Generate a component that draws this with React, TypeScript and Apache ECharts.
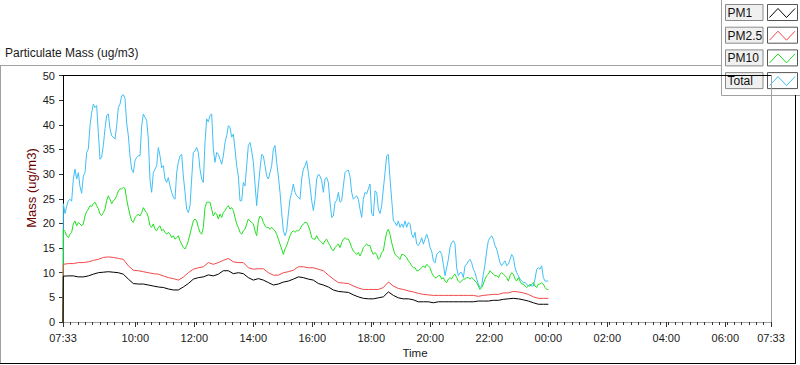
import React, { useEffect, useRef } from "react";
import * as echarts from "echarts";

// ---- data (minutes after 07:33) ----
const FIRST_MIN = 0.68;
const FINE_STEP = 3.39; // sampling step of Total & PM10 (minutes)
const COARSE_STEP = 10.17; // sampling step of PM1 & PM2.5 (minutes)

const TICK_LABELS = ["07:33", "10:00", "12:00", "14:00", "16:00", "18:00", "20:00", "22:00", "00:00", "02:00", "04:00", "06:00", "07:33"];

const totalValues = [
  24.0, 22.0, 23.5, 24.6, 24.9, 24.5, 29.0, 31.0, 29.0, 30.3,
  27.5, 26.1, 29.6, 30.3, 34.4, 35.1, 39.8, 42.5, 44.2, 43.5,
  43.9, 38.4, 33.0, 33.5, 35.8, 39.2, 41.9, 42.2, 39.2, 37.8,
  37.5, 37.1, 39.8, 43.5, 44.2, 45.9, 46.1, 45.3, 40.4, 37.8,
  33.7, 31.0, 30.3, 32.7, 33.4, 33.7, 33.7, 39.8, 42.2, 41.5,
  40.9, 37.1, 28.7, 26.3, 30.3, 31.0, 31.7, 35.4, 33.7, 31.3,
  31.7, 29.0, 28.3, 29.3, 27.6, 26.3, 25.3, 24.9, 30.3, 32.4,
  33.7, 34.0, 29.6, 26.3, 22.9, 22.2, 23.6, 29.0, 34.4, 34.7,
  35.4, 34.4, 31.0, 29.0, 28.3, 36.4, 41.2, 40.6, 41.9, 42.2,
  35.1, 32.4, 34.4, 34.0, 33.0, 32.0, 33.7, 36.4, 37.8, 39.8,
  39.5, 37.5, 38.1, 35.1, 31.7, 29.6, 24.6, 24.6, 28.3, 27.6,
  31.7, 35.8, 36.4, 34.7, 32.4, 28.0, 23.6, 27.6, 31.0, 34.0,
  33.7, 31.7, 29.6, 29.0, 30.3, 31.7, 35.1, 35.8, 32.4, 29.6,
  26.3, 22.2, 18.5, 17.5, 18.5, 21.9, 24.9, 26.3, 28.0, 26.3,
  25.6, 25.3, 24.9, 29.0, 31.0, 31.7, 32.7, 30.3, 27.6,
  24.6, 22.6, 24.9, 29.0, 30.0, 29.6, 28.7, 26.3, 29.0, 29.3,
  28.3, 24.3, 21.2, 21.5, 24.3, 24.6, 26.3, 24.3, 24.6, 27.6,
  30.3, 30.7, 30.8, 29.6, 26.3, 24.9, 25.3, 25.6, 24.9, 22.9,
  21.2, 24.9, 26.3, 26.0, 27.0, 28.0, 22.0, 21.5, 26.6, 26.3,
  22.9, 22.0, 23.6, 27.0, 30.3, 33.7, 34.0, 29.0, 24.9,
  20.5, 20.2, 19.5, 20.5, 19.2, 19.9, 19.2, 20.5, 19.2, 20.2,
  19.9, 17.8, 17.1, 18.2, 15.8, 15.5, 16.1, 17.1, 15.8, 16.8,
  17.8, 16.8, 15.1, 14.4, 12.4, 12.0, 13.7, 14.1, 14.4, 13.7,
  11.7, 9.4, 11.0, 12.7, 15.1, 16.1, 16.5, 15.8, 11.0, 9.4,
  10.0, 10.0, 9.0, 11.4, 11.7, 12.4, 12.7, 12.0, 10.7, 10.0,
  8.7, 7.7, 7.0, 7.3, 9.7, 11.7, 14.4, 16.5, 17.1, 17.5,
  16.8, 15.5, 14.8, 13.4, 12.0, 11.4, 12.0, 12.4, 11.4, 11.7,
  12.7, 13.7, 13.1, 11.0, 10.0, 9.4, 8.7, 8.3, 8.0, 8.0,
  7.7, 7.3, 7.7, 7.3, 7.3, 8.7, 10.7, 11.0, 10.7, 11.4,
  9.0, 8.3, 8.3, 8.3,
];

const pm10Values = [
  18.8, 18.4, 17.5, 17.1, 17.8, 18.2, 19.9, 20.5, 19.5, 20.2,
  19.9, 19.5, 19.9, 21.5, 22.4, 22.9, 23.6, 23.4, 24.0, 24.3,
  23.6, 23.0, 21.9, 21.6, 22.2, 22.9, 24.6, 25.6, 24.9, 24.0,
  24.6, 24.9, 25.6, 26.6, 27.0, 27.0, 27.3, 27.1, 24.9, 23.2,
  21.7, 20.5, 20.2, 21.2, 21.5, 21.9, 21.5, 22.2, 23.2, 22.6,
  22.2, 21.2, 19.5, 19.2, 19.9, 18.8, 18.5, 19.2, 19.5, 18.5,
  18.8, 18.2, 17.8, 18.2, 17.8, 17.1, 17.5, 16.8, 17.1, 17.5,
  16.5, 15.8, 15.1, 14.8, 15.5, 16.5, 17.8, 19.2, 20.5, 20.9,
  20.5, 19.2, 18.2, 17.8, 19.2, 23.2, 24.3, 24.3, 24.3, 22.9,
  21.5, 22.2, 21.9, 20.9, 21.9, 21.2, 22.2, 22.6, 23.2, 23.6,
  22.9, 23.2, 22.6, 21.2, 19.9, 19.2, 18.2, 17.8, 18.5, 18.8,
  19.9, 20.9, 20.5, 20.2, 19.9, 18.5, 17.5, 20.5, 21.5, 21.2,
  20.2, 19.5, 19.2, 19.2, 18.8, 19.2, 18.8, 18.5, 17.8, 16.8,
  15.8, 14.8, 13.7, 14.8, 15.5, 16.5, 17.5, 18.2, 18.5, 18.2,
  18.5, 18.5, 18.8, 19.5, 19.9, 20.2, 20.2, 19.5, 18.5,
  17.1, 16.8, 16.8, 17.5, 16.8, 16.5, 16.1, 15.8, 16.5, 16.8,
  16.1, 15.5, 14.8, 14.4, 15.1, 15.5, 15.8, 15.1, 16.1, 16.8,
  17.1, 16.8, 16.8, 16.1, 15.1, 14.4, 14.1, 13.7, 14.1, 13.4,
  14.1, 15.1, 15.5, 15.8, 15.5, 15.5, 14.4, 13.7, 14.1, 13.7,
  12.7, 13.1, 14.1, 14.4, 16.5, 18.2, 18.8, 17.8, 16.1, 14.8,
  13.7, 13.4, 13.1, 12.7, 13.7, 13.7, 13.4, 13.1, 12.4, 12.0,
  11.4, 11.0, 11.0, 10.4, 10.4, 10.7, 11.0, 11.4, 11.0, 11.7,
  11.4, 11.0, 10.0, 9.4, 9.0, 9.0, 9.4, 9.4, 8.7, 9.0,
  8.3, 8.0, 8.7, 9.0, 8.7, 9.4, 9.7, 9.0, 8.3, 8.0,
  8.3, 8.7, 8.7, 9.0, 9.0, 8.7, 9.0, 8.7, 8.3, 8.0,
  7.3, 6.6, 7.0, 7.7, 8.7, 9.4, 9.7, 10.4, 10.0, 9.7,
  9.4, 9.4, 9.0, 9.7, 10.0, 9.7, 9.4, 9.0, 8.3, 9.4,
  10.0, 9.7, 8.7, 8.3, 9.0, 8.3, 7.7, 7.7, 7.3, 7.0,
  7.3, 7.3, 7.7, 8.0, 7.3, 7.0, 7.7, 7.7, 8.0, 7.7,
  7.0, 6.6, 6.6,
];

const pm25Values = [
  11.7, 11.85, 11.85, 12.05, 12.05, 12.2, 12.5, 12.7, 13.1, 13.2,
  13.1, 12.9, 12.7, 11.4, 10.5, 10.4, 10.2, 10.0, 9.8, 9.7,
  9.35, 9.0, 8.8, 8.5, 9.1, 10.0, 10.7, 11.0, 11.2, 12.05,
  11.7, 12.05, 12.5, 12.9, 12.2, 12.05, 12.05, 11.0, 10.7, 10.8,
  10.8, 10.0, 9.5, 9.5, 10.0, 10.2, 10.5, 11.2, 11.2, 11.0,
  11.0, 10.7, 10.4, 9.5, 8.7, 8.0, 7.9, 7.8, 7.3, 6.9,
  6.6, 6.6, 6.6, 6.6, 7.0, 8.1, 7.3, 6.8, 6.6, 6.3,
  6.1, 5.8, 5.6, 5.5, 5.4, 5.4, 5.4, 5.4, 5.4, 5.4,
  5.4, 5.4, 5.4, 5.2, 5.4, 5.5, 5.6, 5.6, 5.9, 5.9,
  6.2, 6.1, 5.9, 5.6, 5.1, 4.8, 4.8, 4.8,
];

const pm1Values = [
  9.3, 9.35, 9.35, 9.15, 9.15, 9.35, 9.7, 10.0, 10.1, 10.2,
  10.1, 10.0, 9.7, 8.7, 7.8, 7.7, 7.7, 7.5, 7.3, 7.1,
  7.0, 6.7, 6.5, 6.5, 7.1, 7.8, 8.7, 9.0, 9.15, 9.55,
  9.35, 9.7, 10.4, 10.4, 9.8, 10.0, 9.8, 9.0, 8.5, 8.8,
  8.5, 8.0, 7.5, 7.7, 8.1, 8.3, 8.7, 9.15, 9.0, 8.7,
  8.5, 7.8, 7.5, 7.1, 6.5, 6.2, 6.1, 6.0, 5.5, 5.1,
  4.8, 4.7, 4.7, 4.9, 5.1, 6.1, 5.4, 4.9, 4.7, 4.7,
  4.5, 4.1, 4.1, 4.1, 3.9, 4.1, 4.1, 4.1, 4.1, 4.1,
  4.1, 4.1, 4.1, 4.25, 4.25, 4.25, 4.4, 4.4, 4.6, 4.7,
  4.8, 4.7, 4.5, 4.25, 3.9, 3.6, 3.6, 3.6,
];

const SERIES_NAMES = ["PM1", "PM2.5", "PM10", "Total"];
const SERIES_COLORS = ["#000000", "#f04848", "#20e020", "#40bff5"];

// ---- helpers ----
const START_CLOCK = 7 * 60 + 33;
function labelToMinutes(lbl: string, idx: number, last: number) {
  const [h, m] = lbl.split(":").map(Number);
  let v = (h * 60 + m - START_CLOCK + 1440) % 1440;
  if (idx === last && v === 0) v = 1440;
  return v;
}
const TICK_MINUTES = TICK_LABELS.map((l, i) => labelToMinutes(l, i, TICK_LABELS.length - 1));

function toPairs(values: number[], step: number) {
  const out: number[][] = [[0, 0]];
  values.forEach((v, i) => out.push([FIRST_MIN + i * step, v]));
  return out;
}

const FONT = "'Liberation Sans', Arial, sans-serif";
const TEXT_COLOR = "#1a1a1a";

export default function App() {
  const ref = useRef<HTMLDivElement>(null);

  useEffect(() => {
    if (!ref.current) return;
    const chart = echarts.init(ref.current, undefined, { renderer: "svg" });

    const seriesData: Record<string, number[][]> = {
      PM1: toPairs(pm1Values, COARSE_STEP),
      "PM2.5": toPairs(pm25Values, COARSE_STEP),
      PM10: toPairs(pm10Values, FINE_STEP),
      Total: toPairs(totalValues, FINE_STEP),
    };

    // draw order: Total first, PM1 last (on top)
    const drawOrder = ["Total", "PM10", "PM2.5", "PM1"];
    const series = drawOrder.map((name) => ({
      name,
      type: "line",
      xAxisIndex: 0,
      yAxisIndex: 0,
      data: seriesData[name],
      showSymbol: false,
      symbol: "none",
      silent: true,
      lineStyle: { color: SERIES_COLORS[SERIES_NAMES.indexOf(name)], width: 1 },
      itemStyle: { color: SERIES_COLORS[SERIES_NAMES.indexOf(name)] },
    }));

    const legendChildren: any[] = [
      {
        type: "rect",
        shape: { x: 721.5, y: -1, width: 82, height: 96.5 },
        style: { fill: "#ffffff", stroke: "#a0a0a0", lineWidth: 1 },
      },
    ];
    SERIES_NAMES.forEach((name, i) => {
      const y0 = 4.5 + i * 22.7;
      legendChildren.push(
        {
          type: "rect",
          shape: { x: 725.5, y: y0, width: 37.5, height: 16 },
          style: { fill: "#f0f0f0", stroke: "#8a8a8a", lineWidth: 1 },
        },
        {
          type: "text",
          x: 727.5,
          y: y0 + 8.5,
          style: {
            text: name,
            fontSize: 12,
            fontFamily: FONT,
            fill: "#101010",
            align: "left",
            verticalAlign: "middle",
          },
        },
        {
          type: "rect",
          shape: { x: 767.5, y: y0, width: 30, height: 16 },
          style: { fill: "#ffffff", stroke: "#555555", lineWidth: 1 },
        },
        {
          type: "polyline",
          shape: {
            points: [
              [769.5, y0 + 13],
              [778, y0 + 4],
              [786.5, y0 + 13],
              [795, y0 + 4],
            ],
          },
          style: { stroke: SERIES_COLORS[i], lineWidth: 1, fill: null },
        }
      );
    });

    const option: any = {
      animation: false,
      backgroundColor: "#ffffff",
      grid: { left: 63, right: 29, top: 75.5, bottom: 43, containLabel: false },
      xAxis: [
        {
          type: "value",
          min: 0,
          max: 1440,
          position: "bottom",
          axisLine: { show: true, lineStyle: { color: "#a0a0a0", width: 1 } },
          axisTick: {
            show: true,
            customValues: TICK_MINUTES,
            length: 5,
            lineStyle: { color: "#333333" },
          },
          axisLabel: {
            customValues: TICK_MINUTES,
            fontSize: 11,
            fontFamily: FONT,
            color: TEXT_COLOR,
            margin: 10,
            formatter: (v: number) => {
              const idx = TICK_MINUTES.findIndex((t) => Math.abs(t - v) < 0.5);
              return idx >= 0 ? TICK_LABELS[idx] : "";
            },
          },
          splitLine: { show: false },
        },
        {
          type: "value",
          min: 0,
          max: 1440,
          interval: 15,
          position: "bottom",
          axisLine: { show: false },
          axisTick: { show: true, length: 3, lineStyle: { color: "#333333" } },
          axisLabel: { show: false },
          splitLine: { show: false },
        },
      ],
      yAxis: {
        type: "value",
        min: 0,
        max: 50,
        interval: 5,
        axisLine: { show: true, lineStyle: { color: "#000000", width: 1 } },
        axisTick: { show: true, length: 4, lineStyle: { color: "#333333" } },
        axisLabel: {
          fontSize: 11,
          fontFamily: FONT,
          color: TEXT_COLOR,
          margin: 8,
        },
        splitLine: { show: false },
      },
      series,
      graphic: [
        // outer panel frame
        { type: "line", z: 50, shape: { x1: 0, y1: 65.5, x2: 722, y2: 65.5 }, style: { stroke: "#a0a0a0", lineWidth: 1 } },
        { type: "line", z: 50, shape: { x1: 0.5, y1: 65.5, x2: 0.5, y2: 363 }, style: { stroke: "#a0a0a0", lineWidth: 1 } },
        { type: "line", z: 50, shape: { x1: 0, y1: 363.5, x2: 796, y2: 363.5 }, style: { stroke: "#000000", lineWidth: 1 } },
        { type: "line", z: 50, shape: { x1: 795.5, y1: 95, x2: 795.5, y2: 364 }, style: { stroke: "#000000", lineWidth: 1 } },
        // plot frame top / right
        { type: "line", z: 50, shape: { x1: 62.5, y1: 75.5, x2: 771.5, y2: 75.5 }, style: { stroke: "#000000", lineWidth: 1 } },
        { type: "line", z: 50, shape: { x1: 771.5, y1: 75.5, x2: 771.5, y2: 322 }, style: { stroke: "#a0a0a0", lineWidth: 1 } },
        // title
        {
          type: "text",
          x: 5,
          y: 53,
          z: 60,
          style: { text: "Particulate Mass (ug/m3)", fontSize: 12, fontFamily: FONT, fill: TEXT_COLOR, align: "left", verticalAlign: "middle" },
        },
        // y axis name
        {
          type: "text",
          x: 31,
          y: 188,
          rotation: Math.PI / 2,
          z: 60,
          style: { text: "Mass (ug/m3)", fontSize: 13, fontFamily: FONT, fill: "#6b0000", align: "center", verticalAlign: "middle" },
        },
        // x axis name
        {
          type: "text",
          x: 415,
          y: 353,
          z: 60,
          style: { text: "Time", fontSize: 11.5, fontFamily: FONT, fill: TEXT_COLOR, align: "center", verticalAlign: "middle" },
        },
        { type: "group", z: 100, children: legendChildren },
      ],
    };

    chart.setOption(option);
    return () => chart.dispose();
  }, []);

  return (
    <div
      ref={ref}
      style={{ position: "fixed", left: 0, top: 0, width: 800, height: 365, background: "#fff" }}
    />
  );
}
